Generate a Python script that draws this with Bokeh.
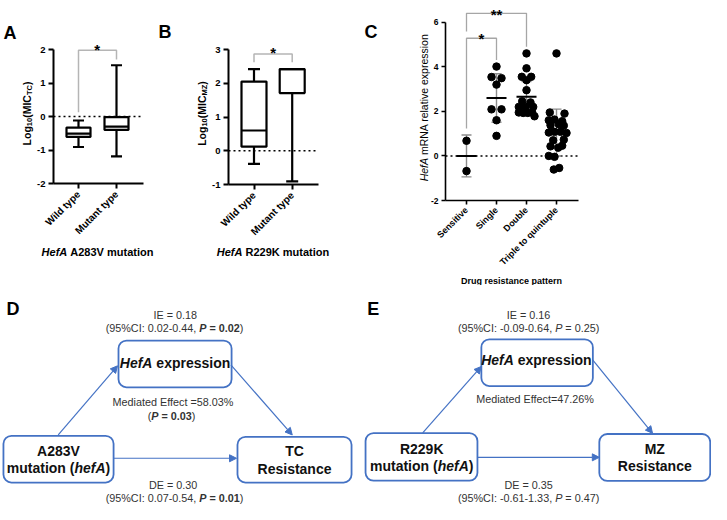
import math
from bokeh.plotting import figure
from bokeh.models import Range1d, FixedTicker, Label, Arrow, NormalHead, ColumnDataSource
from bokeh.layouts import row, column
from bokeh.embed import file_html
from bokeh.resources import INLINE
from bokeh.core.properties import value

# ---------------- data ----------------
ab_groups = ["Wild type", "Mutant type"]
a_low = [-0.91, -1.19]
a_q1 = [-0.61, -0.40]
a_med = [-0.51, -0.30]
a_q3 = [-0.33, -0.02]
a_high = [-0.12, 1.53]

b_low = [-0.39, -0.91]
b_q1 = [0.12, 1.71]
b_med = [0.60, 2.42]
b_q3 = [2.05, 2.42]
b_high = [2.42, 2.42]

a_yticks = [-2, -1, 0, 1, 2]
b_yticks = [-1, 0, 1, 2, 3]
c_yticks = [-2, 0, 2, 4, 6]

c_groups = ["Sensitive", "Single", "Double", "Triple to quintuple"]
c_sensitive = [0.68, -0.68]
c_single = [4.01, 3.54, 3.49, 3.20, 2.09, 2.09, 1.60, 0.90]
c_double = [4.60, 3.93, 3.55, 3.55, 3.40, 2.95, 2.45, 2.40, 2.20, 2.20, 2.20,
            1.95, 1.93, 1.93, 1.95, 1.78]
c_triple = [4.60, 1.95, 1.90, 1.60, 1.63, 1.56, 1.38, 1.42, 1.36, 1.05, 1.08,
            1.08, 1.03, 0.70, 0.73, 0.43, 0.37, 0.46, 0.00, -0.04, -0.61, -0.54]
c_mean = [0.00, 2.60, 2.66, 1.05]
c_sd = [0.94, 1.09, 0.68, 1.05]

# swarm offsets (px, layout only)
off_sensitive = [0, 0]
off_single = [0, -5, 5, 0, -5, 5, 0, 0]
off_double = [0, 0, -4.7, 4.7, 0, 0, -4.3, 4, -7.7, -1, 6.7, -7.7, -3.3, 1.3, 5.7, 8]
off_triple = [0, -6.7, 8, -7.7, -2, 5.7, -6, 2.3, 7.3, -7.7, -2, 4, 10, -3.3, 7.3,
              -6, 1.7, 5.7, -7.7, -2, -2.7, 2.7]

# significance brackets (y heights)
a_bracket_y = [0.13, 1.98, 1.98, 1.70]
b_bracket_y = [2.62, 2.87, 2.87, 2.62]
c_bracket1_y = [1.23, 5.28, 5.28, 4.30]
c_bracket2_y = [5.58, 6.40, 6.40, 4.90]

FONT = "Liberation Sans"
BLUE = "#4472C4"

# Arial / Liberation Sans advance widths (1/1000 em)
W_REG = {" ": 278, "%": 889, "(": 333, ")": 333, ",": 278, "-": 333, ".": 278, ":": 278,
         "=": 584, "*": 389,
         "A": 667, "B": 667, "C": 722, "D": 722, "E": 667, "H": 722, "I": 278, "K": 667,
         "L": 556, "M": 833, "N": 722, "P": 667, "R": 722, "S": 667, "T": 611, "V": 667,
         "W": 944, "Z": 611,
         "a": 556, "b": 556, "c": 500, "d": 556, "e": 556, "f": 278, "g": 556, "h": 556,
         "i": 222, "l": 222, "m": 833, "n": 556, "o": 556, "p": 556, "q": 556, "r": 333,
         "s": 500, "t": 278, "u": 556, "v": 500, "w": 722, "x": 500, "y": 500}
W_BOLD = {" ": 278, "%": 889, "(": 333, ")": 333, ",": 278, "-": 333, ".": 278, ":": 333,
          "=": 584, "*": 389,
          "A": 722, "B": 722, "C": 722, "D": 722, "E": 667, "H": 722, "I": 278, "K": 722,
          "L": 611, "M": 833, "N": 722, "P": 667, "R": 722, "S": 667, "T": 611, "V": 667,
          "W": 944, "Z": 611,
          "a": 556, "b": 611, "c": 556, "d": 611, "e": 556, "f": 333, "g": 611, "h": 611,
          "i": 278, "l": 278, "m": 889, "n": 611, "o": 611, "p": 611, "q": 611, "r": 389,
          "s": 556, "t": 333, "u": 611, "v": 556, "w": 778, "x": 556, "y": 556}


def tw(text, size, style):
    table = W_BOLD if "bold" in style else W_REG
    return sum(table.get(ch, 556) for ch in text) * size / 1000.0


def split_piece(t, size, style):
    """SVG drops leading/trailing blanks: return (stripped text, lead width, full width)."""
    lead = len(t) - len(t.lstrip(" "))
    return t.strip(" "), tw(" " * lead, size, style), tw(t, size, style)


def make_panel(cx, cy, w, h, xa, ya):
    (xv1, xp1), (xv2, xp2) = xa
    kx = (xv2 - xv1) / (xp2 - xp1)
    (yv1, yp1), (yv2, yp2) = ya
    ky = (yv2 - yv1) / (yp2 - yp1)

    def fx(px):
        return xv1 + (px - xp1) * kx

    def fy(py):
        return yv1 + (py - yp1) * ky

    p = figure(width=w, height=h, x_range=Range1d(fx(cx), fx(cx + w)),
               y_range=Range1d(fy(cy + h), fy(cy)), min_border=0,
               toolbar_location=None, output_backend="svg")
    p.outline_line_color = None
    p.background_fill_color = "white"
    p.border_fill_color = "white"
    p.xgrid.visible = False
    p.ygrid.visible = False
    return p, fx, fy, kx


def minus_fix(ticks):
    return {t: (str(t) if t >= 0 else "-" + str(-t)) for t in ticks}


def style_axes(p, fx, yticks, yb, xticks, xlabels, ysize, xsize, lw, axis_x_ref, x_end_ref,
               xstyle="bold", tick_out=5):
    yax = p.yaxis[0]
    xax = p.xaxis[0]
    yax.ticker = FixedTicker(ticks=yticks)
    yax.bounds = yb
    yax.fixed_location = fx(axis_x_ref)
    yax.major_label_overrides = minus_fix(yticks)
    xax.ticker = FixedTicker(ticks=xticks)
    xax.bounds = (fx(axis_x_ref), fx(x_end_ref))
    xax.fixed_location = yb[0]
    xax.major_label_overrides = {t: l for t, l in zip(xticks, xlabels)}
    xax.major_label_orientation = math.pi / 4
    for ax in (xax, yax):
        ax.axis_line_width = lw
        ax.axis_line_color = "black"
        ax.major_tick_line_width = lw
        ax.major_tick_line_color = "black"
        ax.major_tick_in = 0
        ax.major_tick_out = tick_out
        ax.minor_tick_line_color = None
        ax.major_label_text_font = FONT
        ax.major_label_text_color = "black"
    yax.major_label_text_font_size = f"{ysize}px"
    yax.major_label_text_font_style = "bold"
    xax.major_label_text_font_size = f"{xsize}px"
    xax.major_label_text_font_style = xstyle
    yax.major_label_standoff = 3
    xax.major_label_standoff = 4


def hlabel(p, fx, fy, cx, cy, pieces, color="black", align="center", baseline="middle"):
    total = sum(tw(t, s, st) for t, s, st in pieces)
    x = cx - total / 2 if align == "center" else cx
    for t, s, st in pieces:
        txt, lead, full = split_piece(t, s, st)
        p.add_layout(Label(x=fx(x + lead), y=fy(cy), text=txt, text_font=FONT,
                           text_font_size=f"{s}px", text_font_style=st, text_color=color,
                           text_align="left", text_baseline=baseline))
        x += full


def vlabel(p, fx, fy, cx, cy, pieces, color="black"):
    total = sum(tw(t, s, st) for t, s, st, sub in pieces)
    y = cy + total / 2
    for t, s, st, sub in pieces:
        txt, lead, full = split_piece(t, s, st)
        p.add_layout(Label(x=fx(cx + sub), y=fy(y - lead), text=txt, text_font=FONT,
                           text_font_size=f"{s}px", text_font_style=st, text_color=color,
                           text_align="left", text_baseline="middle", angle=math.pi / 2))
        y -= full


def star(p, fx, fy, cx, cy, text, size=15):
    p.add_layout(Label(x=fx(cx), y=fy(cy + 0.57 * size), text=text, text_font=FONT,
                       text_font_size=f"{size}px", text_font_style="bold", text_color="black",
                       text_align="center", text_baseline="alphabetic"))


def draw_box(p, xs, lo, q1, med, q3, hi, bw, cw):
    lw = 2.2
    p.segment(x0=xs, y0=q3, x1=xs, y1=hi, line_color="black", line_width=lw)
    p.segment(x0=xs, y0=lo, x1=xs, y1=q1, line_color="black", line_width=lw)
    p.segment(x0=[x - cw / 2 for x in xs], y0=hi, x1=[x + cw / 2 for x in xs], y1=hi,
              line_color="black", line_width=lw)
    p.segment(x0=[x - cw / 2 for x in xs], y0=lo, x1=[x + cw / 2 for x in xs], y1=lo,
              line_color="black", line_width=lw)
    p.vbar(x=xs, width=bw, bottom=q1, top=q3, fill_color="white", line_color="black",
           line_width=lw)
    p.segment(x0=[x - bw / 2 for x in xs], y0=med, x1=[x + bw / 2 for x in xs], y1=med,
              line_color="black", line_width=lw)


def zero_line(p, fx, x0_ref, x1_ref):
    p.line(x=[fx(x0_ref), fx(x1_ref)], y=[0, 0], line_color="black", line_width=1.5,
           line_dash="2 3", level="underlay")


TOP_H = 285

# ---------------- panel A ----------------
pa, fxa, fya, kxa = make_panel(0, 0, 156, TOP_H, ((0, 78), (1, 116)), ((2, 49), (-2, 183)))
style_axes(pa, fxa, a_yticks, (-2, 2), [0, 1], ab_groups, 9.5, 10, 2, 53, 143)
zero_line(pa, fxa, 53, 143)
xs_ab = [0, 1]
draw_box(pa, xs_ab, a_low, a_q1, a_med, a_q3, a_high, 24 * kxa, 11 * kxa)
pa.line(x=[0, 0, 1, 1], y=a_bracket_y, line_color="#b5b5b5", line_width=1.5)
star(pa, fxa, fya, 96.7, 40, "*")
vlabel(pa, fxa, fya, 26, 113, [("Log", 10.5, "bold", 0), ("10", 7.5, "bold", 3),
                               ("(MIC", 10.5, "bold", 0), ("TC", 7.5, "bold", 3),
                               (")", 10.5, "bold", 0)])
hlabel(pa, fxa, fya, 97, 251, [("HefA", 11, "bold italic"), (" A283V mutation", 11, "bold")])
hlabel(pa, fxa, fya, 3, 32, [("A", 18, "bold")], align="left", baseline="alphabetic")

# ---------------- panel B ----------------
pb, fxb, fyb, kxb = make_panel(156, 0, 199, TOP_H, ((0, 253.5), (1, 291.7)), ((3, 49), (-1, 184)))
style_axes(pb, fxb, b_yticks, (-1, 3), [0, 1], ab_groups, 9.5, 10, 2, 228, 318)
zero_line(pb, fxb, 228, 318)
draw_box(pb, xs_ab, b_low, b_q1, b_med, b_q3, b_high, 25 * kxb, 12 * kxb)
pb.line(x=[0, 0, 1, 1], y=b_bracket_y, line_color="#b5b5b5", line_width=1.5)
star(pb, fxb, fyb, 272.7, 43.3, "*")
vlabel(pb, fxb, fyb, 201, 113, [("Log", 10.5, "bold", 0), ("10", 7.5, "bold", 3),
                                ("(MIC", 10.5, "bold", 0), ("MZ", 7.5, "bold", 3),
                                (")", 10.5, "bold", 0)])
hlabel(pb, fxb, fyb, 272.5, 251, [("HefA", 11, "bold italic"), (" R229K mutation", 11, "bold")])
hlabel(pb, fxb, fyb, 158, 31.7, [("B", 18, "bold")], align="left", baseline="alphabetic")

# ---------------- panel C ----------------
pc, fxc, fyc, kxc = make_panel(355, 0, 356, TOP_H, ((0, 466), (1, 496)), ((6, 21.7), (-2, 200)))
style_axes(pc, fxc, c_yticks, (-2, 6), [0, 1, 2, 3], c_groups, 8.5, 9, 1.6, 445, 578,
           tick_out=4)
zero_line(pc, fxc, 445, 578)
cxs = [0, 1, 2, 3]
lo_err = [m - s for m, s in zip(c_mean, c_sd)]
hi_err = [m + s for m, s in zip(c_mean, c_sd)]
pc.segment(x0=cxs, y0=lo_err, x1=cxs, y1=hi_err, line_color="#8c8c8c", line_width=1.4)
cap = 5 * kxc
pc.segment(x0=[x - cap for x in cxs], y0=lo_err, x1=[x + cap for x in cxs], y1=lo_err,
           line_color="#8c8c8c", line_width=1.4)
pc.segment(x0=[x - cap for x in cxs], y0=hi_err, x1=[x + cap for x in cxs], y1=hi_err,
           line_color="#8c8c8c", line_width=1.4)
px_all, py_all = [], []
for gi, (vals, offs) in enumerate([(c_sensitive, off_sensitive), (c_single, off_single),
                                   (c_double, off_double), (c_triple, off_triple)]):
    for v, o in zip(vals, offs):
        px_all.append(gi + o * kxc)
        py_all.append(v)
pc.scatter(x=px_all, y=py_all, size=7.5, color="black")
mw = 10 * kxc
pc.segment(x0=[x - mw for x in cxs], y0=c_mean, x1=[x + mw for x in cxs], y1=c_mean,
           line_color="black", line_width=2)
pc.line(x=[0, 0, 1, 1], y=c_bracket1_y, line_color="#a6a6a6", line_width=1.3)
pc.line(x=[0, 0, 2, 2], y=c_bracket2_y, line_color="#a6a6a6", line_width=1.3)
star(pc, fxc, fyc, 481, 29, "*")
star(pc, fxc, fyc, 496, 5, "**")
vlabel(pc, fxc, fyc, 423, 107, [("HefA", 10.5, "italic", 0),
                                (" mRNA relative expression", 10.5, "normal", 0)])
hlabel(pc, fxc, fyc, 511, 280.5, [("Drug resistance pattern", 9, "bold")])
hlabel(pc, fxc, fyc, 364, 31, [("C", 18, "bold")], align="left", baseline="alphabetic")


# ---------------- diagrams D & E ----------------
BOT_H = 504 - TOP_H


def make_diagram(w, xr):
    p = figure(width=w, height=BOT_H, x_range=Range1d(*xr), y_range=Range1d(519.5, TOP_H),
               x_axis_type=None, y_axis_type=None, toolbar_location=None,
               output_backend="svg", min_border=0)
    p.outline_line_color = None
    p.background_fill_color = "white"
    p.border_fill_color = "white"
    return p


def dtext(p, cx, cy, pieces, color):
    total = sum(tw(t, s, st) for t, s, st in pieces)
    off = -total / 2
    for t, s, st in pieces:
        txt, lead, full = split_piece(t, s, st)
        p.text(x=[cx], y=[cy], text=[txt], x_offset=off + lead, text_font=value(FONT),
               text_font_size=f"{s}px", text_font_style=st, text_color=color,
               text_align="left", text_baseline="middle")
        off += full


def draw_diagram(p, boxes, arrows, texts, letter):
    p.quad(left=[b[0] for b in boxes], right=[b[1] for b in boxes],
           top=[b[2] for b in boxes], bottom=[b[3] for b in boxes],
           fill_color=None, line_color=BLUE, line_width=1.8, border_radius=8)
    src = ColumnDataSource(dict(x0=[a[0] for a in arrows], y0=[a[1] for a in arrows],
                                x1=[a[2] for a in arrows], y1=[a[3] for a in arrows]))
    p.add_layout(Arrow(source=src, x_start="x0", y_start="y0", x_end="x1", y_end="y1",
                       line_color=BLUE, line_width=1.2,
                       end=NormalHead(size=7, fill_color=BLUE, line_color=BLUE)))
    for cx, cy, pieces, color in texts:
        dtext(p, cx, cy, pieces, color)
    lx, ly, lt = letter
    p.text(x=[lx], y=[ly], text=[lt], text_font=value(FONT), text_font_size="18px",
           text_font_style="bold", text_color="black", text_align="left",
           text_baseline="alphabetic")


SM = 10.8
BG = 14
GREY = "#333333"
DARK = "#111111"

d_boxes = [(120, 235, 344, 394), (3, 115, 446, 496), (241, 357, 447, 496)]
d_arrows = [(58.7, 445, 119, 371), (234.3, 370, 296.7, 445), (115, 470, 240, 470)]
d_texts = [
    (177.7, 316.5, [("IE = 0.18", SM, "normal")], GREY),
    (177, 331, [("(95%CI: 0.02-0.44, ", SM, "normal"), ("P", SM, "bold italic"),
                (" = 0.02", SM, "bold"), (")", SM, "normal")], GREY),
    (177.5, 368, [("HefA", BG, "bold italic"), (" expression", BG, "bold")], DARK),
    (175.5, 410, [("Mediated Effect =58.03%", SM, "normal")], GREY),
    (174, 424.5, [("(", SM, "normal"), ("P", SM, "bold italic"), (" = 0.03", SM, "bold"),
                  (")", SM, "normal")], GREY),
    (59, 462, [("A283V", BG, "bold")], DARK),
    (59, 480, [("mutation (", BG, "bold"), ("hefA", BG, "bold italic"), (")", BG, "bold")], DARK),
    (299, 462, [("TC", BG, "bold")], DARK),
    (299, 481, [("Resistance", BG, "bold")], DARK),
    (175.5, 498.5, [("DE = 0.30", SM, "normal")], GREY),
    (177, 513, [("(95%CI: 0.07-0.54, ", SM, "normal"), ("P", SM, "bold italic"),
                (" = 0.01", SM, "bold"), (")", SM, "normal")], GREY),
]

e_boxes = [(491.7, 605.7, 342.7, 392.7), (373.3, 487.7, 443, 494), (612.3, 725.7, 444, 494.3)]
e_arrows = [(431.7, 442.7, 491.7, 371.7), (605.7, 365, 666.7, 443.3), (487.7, 469, 612.3, 469)]
e_texts = [
    (540, 316.7, [("IE = 0.16", SM, "normal")], GREY),
    (540, 331, [("(95%CI: -0.09-0.64, ", SM, "normal"), ("P", SM, "italic"),
                (" = 0.25)", SM, "normal")], GREY),
    (548, 365, [("HefA", BG, "bold italic"), (" expression", BG, "bold")], DARK),
    (546.7, 407, [("Mediated Effect=47.26%", SM, "normal")], GREY),
    (430.7, 460, [("R229K", BG, "bold")], DARK),
    (430.7, 478, [("mutation (", BG, "bold"), ("hefA", BG, "bold italic"), (")", BG, "bold")], DARK),
    (669, 460, [("MZ", BG, "bold")], DARK),
    (669, 478, [("Resistance", BG, "bold")], DARK),
    (540, 498.3, [("DE = 0.35", SM, "normal")], GREY),
    (540, 513, [("(95%CI: -0.61-1.33, ", SM, "normal"), ("P", SM, "italic"),
                (" = 0.47)", SM, "normal")], GREY),
]

pd = make_diagram(354, (0, 360))
draw_diagram(pd, d_boxes, d_arrows, d_texts, (6, 310, "D"))
pe = make_diagram(357, (362, 727))
draw_diagram(pe, e_boxes, e_arrows, e_texts, (375, 310, "E"))

layout = column(row(pa, pb, pc), row(pd, pe))
open("out.html", "w").write(file_html(layout, INLINE))
